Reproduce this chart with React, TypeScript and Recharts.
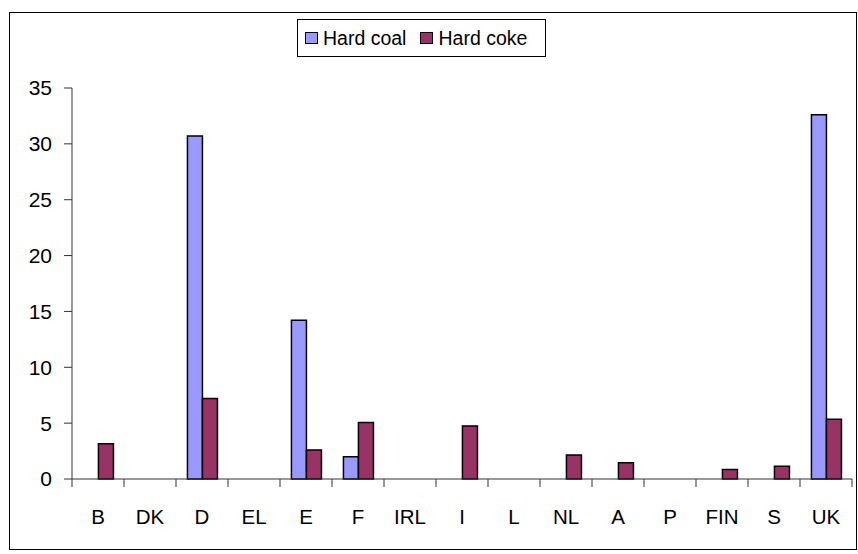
import React from "react"
import { Bar, BarChart, Legend, XAxis, YAxis } from "recharts"

// country codes on the category axis
const countries = ["B", "DK", "D", "EL", "E", "F", "IRL", "I", "L", "NL", "A", "P", "FIN", "S", "UK"]
// null = no bar drawn
const hardCoal = [null, null, 30.7, null, 14.2, 2.0, null, null, null, null, null, null, null, null, 32.6]
const hardCoke = [3.15, null, 7.2, null, 2.6, 5.05, null, 4.75, null, 2.15, 1.45, null, 0.85, 1.15, 5.35]
const yTicks = [0, 5, 10, 15, 20, 25, 30, 35]

const seriesInfo = [
  { key: "coal", name: "Hard coal", color: "#9999FF" },
  { key: "coke", name: "Hard coke", color: "#993366" },
]

const data = countries.map((c, i) => ({ name: c, coal: hardCoal[i], coke: hardCoke[i] }))

const FONT = "'Liberation Sans', Arial, sans-serif"
const X_TICK = 8
const X_MARGIN = 22

function CountryTick(props: any) {
  const { x, y, payload, index, visibleTicksCount } = props
  const half = payload.offset ?? 26
  const axisY = y - X_TICK - X_MARGIN
  return (
    <g>
      <line x1={x - half} x2={x - half} y1={axisY} y2={axisY + X_TICK} stroke="#333" />
      {index === visibleTicksCount - 1 && (
        <line x1={x + half} x2={x + half} y1={axisY} y2={axisY + X_TICK} stroke="#333" />
      )}
      <text x={x} y={y} dy="0.71em" textAnchor="middle" fill="#000" fontSize={20.5} fontFamily={FONT}>
        {payload.value}
      </text>
    </g>
  )
}

function LegendBox() {
  return (
    <div
      style={{
        boxSizing: "border-box",
        width: 249,
        height: 38,
        border: "1px solid #000",
        background: "#fff",
        display: "flex",
        alignItems: "center",
        paddingLeft: 7,
        fontFamily: FONT,
        fontSize: 19.5,
        color: "#000",
      }}
    >
      {seriesInfo.map((s) => (
        <div key={s.key} style={{ display: "flex", alignItems: "center", marginRight: 14 }}>
          <span
            style={{
              display: "inline-block",
              boxSizing: "border-box",
              width: 13,
              height: 12,
              background: s.color,
              border: "1px solid #000",
              marginRight: 5,
            }}
          />
          {s.name}
        </div>
      ))}
    </div>
  )
}

export default function App() {
  return (
    <div style={{ position: "absolute", left: 0, top: 0, width: 858, height: 554, background: "#fff" }}>
      <div
        style={{
          position: "absolute",
          left: 9,
          top: 12,
          width: 846,
          height: 536,
          border: "1px solid #000",
        }}
      />
      <div style={{ position: "absolute", left: 0, top: 0 }}>
        <BarChart
          width={858}
          height={554}
          data={data}
          margin={{ top: 88, right: 6, bottom: 0, left: 0 }}
          barCategoryGap="22%"
          barGap={0}
        >
          <XAxis
            dataKey="name"
            height={75}
            stroke="#333"
            tickLine={false}
            tickSize={X_TICK}
            tickMargin={X_MARGIN}
            interval={0}
            tick={<CountryTick />}
          />
          <YAxis
            width={72}
            domain={[0, 35]}
            ticks={yTicks}
            stroke="#333"
            tickSize={8}
            tickMargin={12}
            tick={{ fill: "#000", fontSize: 21, fontFamily: FONT }}
          />
          <Legend
            layout="horizontal"
            verticalAlign="middle"
            align="center"
            wrapperStyle={{ top: 19, left: 297, width: 249 }}
            content={<LegendBox />}
          />
          {seriesInfo.map((s) => (
            <Bar
              key={s.key}
              dataKey={s.key}
              name={s.name}
              fill={s.color}
              stroke="#000"
              strokeWidth={1.5}
              isAnimationActive={false}
            />
          ))}
        </BarChart>
      </div>
    </div>
  )
}
